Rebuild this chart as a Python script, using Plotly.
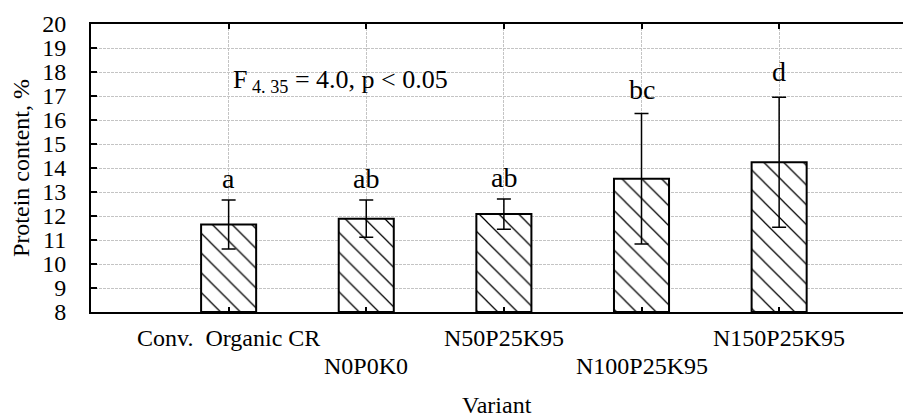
import plotly.graph_objects as go

categories = ["Conv.\u00a0 Organic CR", "N0P0K0", "N50P25K95", "N100P25K95", "N150P25K95"]
means = [11.65, 11.89, 12.08, 13.55, 14.24]
errors = [1.02, 0.78, 0.63, 2.72, 2.71]
letters = ["a", "ab", "ab", "bc", "d"]
letter_baseline = [13.11, 13.11, 13.15, 16.83, 17.60]
y_ticks = list(range(8, 21))

xpos = list(range(len(categories)))
label_rows = [-0.0903 if i % 2 == 0 else -0.1875 for i in xpos]

FONT = "Liberation Serif"

fig = go.Figure()
fig.add_trace(go.Bar(
    x=xpos, y=[m - 8 for m in means], base=8, width=0.4,
    marker=dict(color="white", line=dict(color="black", width=2),
                pattern=dict(shape="\\", size=14, solidity=0.09, fillmode="replace",
                             fgcolor="#000000", fgopacity=1, bgcolor="white")),
    error_y=dict(type="data", array=errors, color="black", thickness=1.5, width=7),
    showlegend=False,
))

annotations = []
for x, t, yb in zip(xpos, letters, letter_baseline):
    annotations.append(dict(x=x, y=yb, xref="x", yref="y", text=t, showarrow=False,
                            yanchor="bottom", yshift=-7,
                            font=dict(family=FONT, size=28, color="black")))
for x, c, yr in zip(xpos, categories, label_rows):
    annotations.append(dict(x=x, y=yr, xref="x", yref="paper", text=c, showarrow=False,
                            yanchor="middle", xanchor="center",
                            font=dict(family=FONT, size=24, color="black")))
annotations.append(dict(x=0.5, y=-0.322, xref="paper", yref="paper", text="Variant",
                        showarrow=False, yanchor="middle", xanchor="center",
                        font=dict(family=FONT, size=24, color="black")))
annotations.append(dict(x=0.02, y=18.38, xref="x", yref="y", xanchor="left", yanchor="top",
                        text="F<sub> 4. 35</sub> = 4.0, p &lt; 0.05", showarrow=False,
                        font=dict(family=FONT, size=26, color="black")))

fig.update_layout(
    width=903, height=420,
    margin=dict(l=91, r=0, t=24, b=108),
    paper_bgcolor="white", plot_bgcolor="white",
    font=dict(family=FONT, size=22, color="black"),
    annotations=annotations,
    xaxis=dict(
        range=[-1.0, 4.9], tickvals=xpos, showticklabels=False,
        showline=True, linecolor="black", linewidth=2, mirror="ticks",
        ticks="inside", ticklen=5, tickwidth=1.5, tickcolor="black",
        showgrid=True, gridcolor="#c4c4c4", griddash="3px,1px", gridwidth=1,
        zeroline=False,
    ),
    yaxis=dict(
        range=[8, 20], tickvals=y_ticks,
        showline=True, linecolor="black", linewidth=2,
        ticks="inside", ticklen=6, tickwidth=1.5, tickcolor="black",
        showgrid=True, gridcolor="#c4c4c4", griddash="3px,1px", gridwidth=1,
        zeroline=False,
        tickfont=dict(family=FONT, size=24),
        ticklabelstandoff=18,
        title=dict(text="Protein content, %", font=dict(family=FONT, size=24), standoff=6),
    ),
)

fig.write_html("out.html")
